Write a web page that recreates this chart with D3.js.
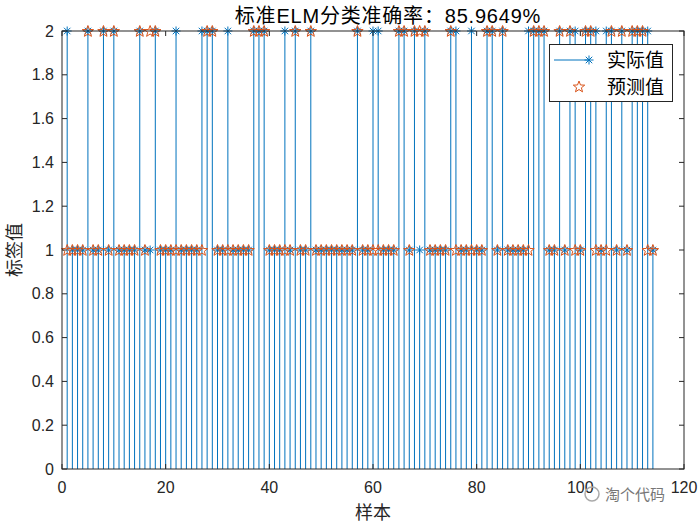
<!DOCTYPE html>
<html>
<head>
<meta charset="utf-8">
<script src="https://cdn.jsdelivr.net/npm/d3@7"></script>
<style>
html,body{margin:0;padding:0;background:#fff;}
text{font-family:"Liberation Sans",Arial,"Noto Sans CJK SC",sans-serif;}
.cjk{font-family:"Noto Sans CJK SC","Liberation Sans",sans-serif;}
.mix{font-family:"Liberation Sans","Noto Sans CJK SC",sans-serif;}
</style>
</head>
<body>
<svg id="chart" width="700" height="525"></svg>
<script>
// ---- data ----
const sampleIndex = d3.range(1, 115);
const actualValues = [
2,1,1,1,2,1,1,2,1,2, 1,1,1,1,2,1,1,2,1,1,
1,2,1,1,1,1,2,2,2,1, 1,2,1,1,1,1,2,2,2,1,
1,1,2,1,2,1,1,2,1,1, 1,1,1,1,1,1,2,1,1,2,
2,1,1,1,2,2,1,2,1,2, 1,1,1,1,2,2,1,1,2,1,
1,2,2,1,2,1,1,1,1,2, 2,2,2,1,1,2,1,2,2,1,
2,2,2,1,2,2,1,2,1,2, 2,2,2,1
];
const predictedValues = [
1,1,1,1,2,1,1,2,1,2, 1,1,1,1,2,1,2,2,1,1,
1,1,1,1,1,1,1,2,2,1, 1,1,1,1,1,1,2,2,2,1,
1,1,1,1,2,1,1,2,1,1, 1,1,1,1,1,1,2,1,1,1,
1,1,1,1,2,2,1,2,2,2, 1,1,1,1,2,1,1,1,1,1,
1,2,2,1,2,1,1,1,1,1, 2,2,2,1,1,2,1,2,1,1,
2,2,1,1,1,2,1,2,1,2, 2,2,1,1
];
const xTicks = [0,20,40,60,80,100,120];
const yTicks = [0,0.2,0.4,0.6,0.8,1,1.2,1.4,1.6,1.8,2];
const titleText = "标准ELM分类准确率：85.9649%";
const xLabel = "样本";
const yLabel = "标签值";
const legendLabels = ["实际值","预测值"];

// ---- layout ----
const svg = d3.select("#chart");
const L = 62, R = 684, T = 31, B = 469;
const x = d3.scaleLinear().domain([0,120]).range([L,R]);
const y = d3.scaleLinear().domain([0,2]).range([B,T]);
const blue = "#0072BD", red = "#D95319", axisCol = "#262626";

// stems
const stems = svg.append("g");
sampleIndex.forEach((s,i)=>{
  stems.append("line")
    .attr("x1",x(s)).attr("x2",x(s))
    .attr("y1",y(0)).attr("y2",y(actualValues[i]))
    .attr("stroke",blue).attr("stroke-width",1);
});

function asterisk(g,cx,cy,r){
  const p = `M${cx-r},${cy}L${cx+r},${cy}M${cx},${cy-r}L${cx},${cy+r}` +
    `M${cx-r*0.72},${cy-r*0.72}L${cx+r*0.72},${cy+r*0.72}M${cx-r*0.72},${cy+r*0.72}L${cx+r*0.72},${cy-r*0.72}`;
  g.append("path").attr("d",p).attr("stroke",blue).attr("stroke-width",1).attr("fill","none");
}
function pentagram(g,cx,cy,r){
  const pts=[];
  for(let k=0;k<10;k++){
    const a = -Math.PI/2 + k*Math.PI/5;
    const rr = k%2===0 ? r : r*0.42;
    pts.push([cx+rr*Math.cos(a), cy+rr*Math.sin(a)]);
  }
  g.append("path").attr("d","M"+pts.map(p=>p.join(",")).join("L")+"Z")
    .attr("stroke",red).attr("stroke-width",1).attr("fill","none");
}

const mk = svg.append("g");
sampleIndex.forEach((s,i)=> asterisk(mk, x(s), y(actualValues[i]), 4.5));
sampleIndex.forEach((s,i)=> pentagram(mk, x(s), y(predictedValues[i])+0.5, 6));

// axes box
const ax = svg.append("g");
ax.append("rect").attr("x",L).attr("y",T).attr("width",R-L).attr("height",B-T)
  .attr("fill","none").attr("stroke",axisCol).attr("stroke-width",1);
const tl = 5;
xTicks.forEach(t=>{
  ax.append("line").attr("x1",x(t)).attr("x2",x(t)).attr("y1",B).attr("y2",B-tl).attr("stroke",axisCol);
  ax.append("line").attr("x1",x(t)).attr("x2",x(t)).attr("y1",T).attr("y2",T+tl).attr("stroke",axisCol);
  ax.append("text").attr("x",x(t)).attr("y",B+24).attr("text-anchor","middle")
    .attr("font-size",16).attr("fill",axisCol).text(t);
});
yTicks.forEach(t=>{
  ax.append("line").attr("x1",L).attr("x2",L+tl).attr("y1",y(t)).attr("y2",y(t)).attr("stroke",axisCol);
  ax.append("line").attr("x1",R).attr("x2",R-tl).attr("y1",y(t)).attr("y2",y(t)).attr("stroke",axisCol);
  ax.append("text").attr("x",L-8).attr("y",y(t)).attr("dy","0.35em").attr("text-anchor","end")
    .attr("font-size",16).attr("fill",axisCol).text(t);
});

// title & labels
svg.append("text").attr("class","mix").attr("x",388).attr("y",23).attr("text-anchor","middle")
  .attr("font-size",20).attr("letter-spacing",0.8).attr("fill","#000").text(titleText);
svg.append("text").attr("class","cjk").attr("x",(L+R)/2).attr("y",519).attr("text-anchor","middle")
  .attr("font-size",18).attr("fill",axisCol).text(xLabel);
svg.append("text").attr("class","cjk").attr("transform",`translate(21,${(T+B)/2}) rotate(-90)`)
  .attr("text-anchor","middle").attr("font-size",18).attr("fill",axisCol).text(yLabel);

// legend
const lg = svg.append("g");
lg.append("rect").attr("x",549.5).attr("y",44.5).attr("width",123).attr("height",57)
  .attr("fill","#fff").attr("stroke",axisCol).attr("stroke-width",1);
lg.append("line").attr("x1",554).attr("x2",589).attr("y1",60).attr("y2",60).attr("stroke",blue);
asterisk(lg,589,60,4.5);
pentagram(lg,579,87,6);
legendLabels.forEach((t,i)=>{
  lg.append("text").attr("class","cjk").attr("x",607).attr("y",60+i*27).attr("dy","0.36em")
    .attr("font-size",19).attr("fill","#000").text(t);
});

// watermark
const wm = svg.append("g");
wm.append("circle").attr("cx",592).attr("cy",494).attr("r",7).attr("fill","none").attr("stroke","#aaa").attr("stroke-width",1.5);
wm.append("text").attr("class","cjk").attr("x",605).attr("y",500).attr("font-size",15).attr("fill","#777").text("淘个代码");
</script>
</body>
</html>
